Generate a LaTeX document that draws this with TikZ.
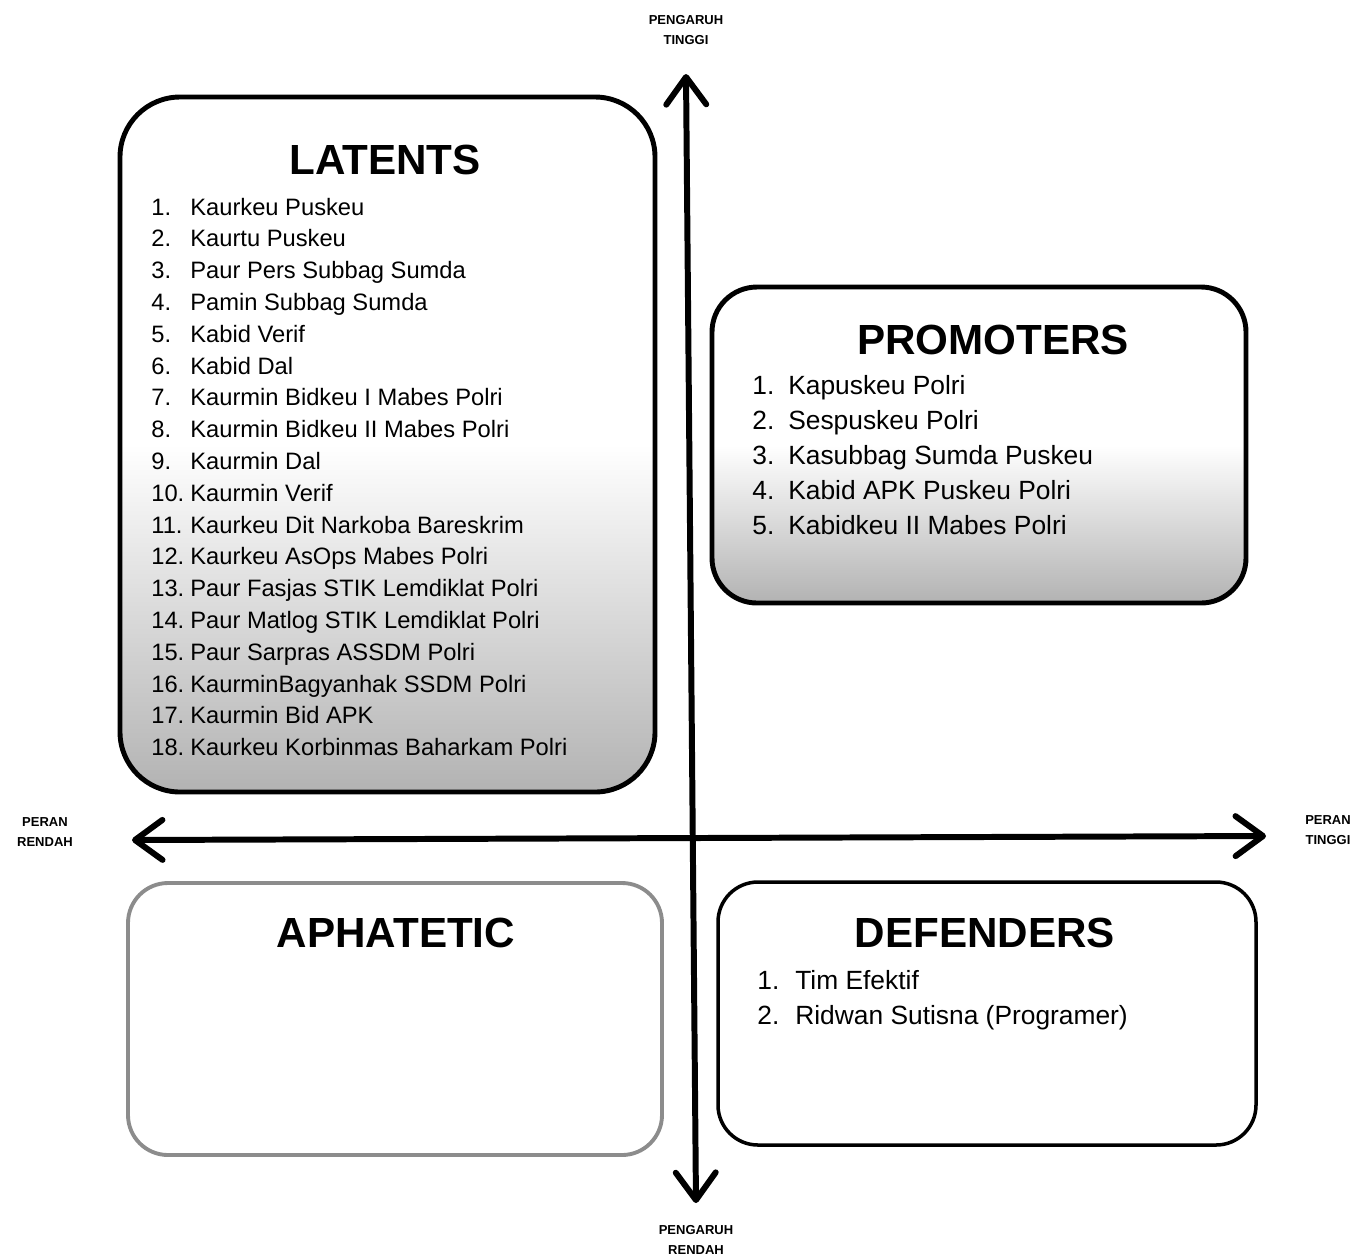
\documentclass[tikz,border=0pt]{standalone}
\usepackage{fontspec}
\setmainfont{Liberation Sans}
\usetikzlibrary{arrows.meta}
\tikzstyle{quadrant} = [line width=2.8pt, draw=black, top color=white, bottom color=black!30, middle color=white]
\tikzstyle{emptyquadrant} = [line width=2.2pt, draw=black!45, fill=white]
\tikzstyle{title} = [font=\fontsize{24}{28}\selectfont\bfseries]
\tikzstyle{smallitem} = [anchor=west, inner sep=0pt, text height=10pt, text depth=3pt, font=\fontsize{13.5}{16}\selectfont]
\tikzstyle{bigitem} = [anchor=west, inner sep=0pt, text height=11pt, text depth=3pt, font=\fontsize{15}{18}\selectfont]
\tikzstyle{axislabel} = [align=center, font=\fontsize{7.4}{11}\selectfont\bfseries]
\tikzstyle{axis} = [line width=3.4pt, {Straight Barb[length=0.55cm, width=0.8cm, round]}-{Straight Barb[length=0.55cm, width=0.8cm, round]}]

\begin{document}
\begin{tikzpicture}[x=0.02cm, y=-0.02cm]
\useasboundingbox (0,0) rectangle (1359,1259);

% quadrant boxes
\draw [quadrant, rounded corners=1.2cm] (120,97) rectangle (655,792);
\draw [quadrant, rounded corners=0.9cm] (712,287) rectangle (1246,603);
\draw [emptyquadrant, rounded corners=0.8cm] (128,883) rectangle (662,1155);
\draw [line width=2pt, draw=black, fill=white, rounded corners=0.8cm] (718,882) rectangle (1256,1145);

% titles
\node (latents) [title] at (385,160) {LATENTS};
\node (promoters) [title] at (993,340) {PROMOTERS};
\node (aphatetic) [title] at (396,933) {APHATETIC};
\node (defenders) [title] at (985,933) {DEFENDERS};

% lists
\foreach \t [count=\i] in {Kaurkeu Puskeu, Kaurtu Puskeu, Paur Pers Subbag Sumda, Pamin Subbag Sumda, Kabid Verif, Kabid Dal, Kaurmin Bidkeu I Mabes Polri, Kaurmin Bidkeu II Mabes Polri, Kaurmin Dal, Kaurmin Verif, Kaurkeu Dit Narkoba Bareskrim, Kaurkeu AsOps Mabes Polri, Paur Fasjas STIK Lemdiklat Polri, Paur Matlog STIK Lemdiklat Polri, Paur Sarpras ASSDM Polri, KaurminBagyanhak SSDM Polri, Kaurmin Bid APK, Kaurkeu Korbinmas Baharkam Polri}
  \node (l\i) [smallitem] at (151,{209+31.8*(\i-1)}) {\makebox[0.78cm][l]{\i.}\t};

\foreach \t [count=\i] in {Kapuskeu Polri, Sespuskeu Polri, Kasubbag Sumda Puskeu, Kabid APK Puskeu Polri, Kabidkeu II Mabes Polri}
  \node (p\i) [bigitem] at (752,{387+35.2*(\i-1)}) {\makebox[0.72cm][l]{\i.}\t};

\foreach \t [count=\i] in {Tim Efektif, Ridwan Sutisna (Programer)}
  \node (d\i) [bigitem] at (757,{982+35*(\i-1)}) {\makebox[0.76cm][l]{\i.}\t};

% axes
\node (high) [axislabel] at (686,30) {PENGARUH\\TINGGI};
\node (low) [axislabel] at (696,1240) {PENGARUH\\RENDAH};
\node (left) [axislabel] at (45,832) {PERAN\\RENDAH};
\node (right) [axislabel] at (1328,830) {PERAN\\TINGGI};
\coordinate (top) at (686,74);
\coordinate (bottom) at (696,1203);
\coordinate (west) at (132,840);
\coordinate (east) at (1266,836);

\draw [axis] (bottom) -- (top);
\draw [axis] (west) -- (east);

\end{tikzpicture}
\end{document}
